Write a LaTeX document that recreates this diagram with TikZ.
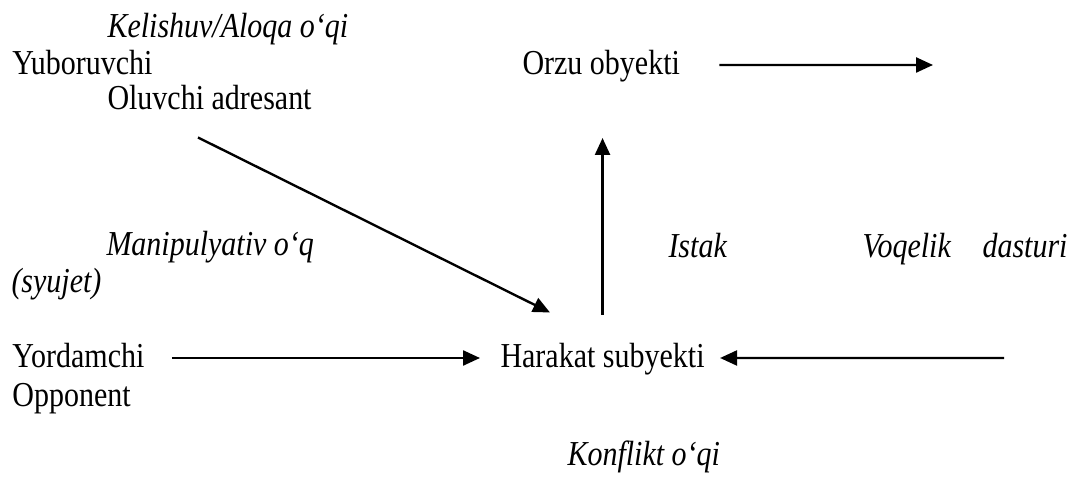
\documentclass[tikz,border=0pt]{standalone}
\usepackage{fontspec}
\setmainfont[FakeStretch=0.857]{Liberation Serif}
\usetikzlibrary{arrows.meta}
\begin{document}
\begin{tikzpicture}[x=0.4pt, y=-0.4pt,
    txt/.style={inner sep=0pt, anchor=base west, text height=8pt, text depth=0pt, font=\fontsize{14pt}{16pt}\selectfont},
    itxt/.style={txt, font=\fontsize{14pt}{16pt}\selectfont\itshape},
    arr/.style={line width=0.95pt, -{Triangle[length=6.8pt, width=6pt]}}]
    \useasboundingbox (0,0) rectangle (1072,484);
    \node (Kel) [itxt] at (107,38) {Kelishuv/Aloqa o‘qi};
    \node (Yub) [txt] at (12,75) {Yuboruvchi};
    \node (Oluv) [txt] at (107,110) {Oluvchi adresant};
    \node (Orzu) [txt] at (522,75) {Orzu obyekti};
    \node (Man) [itxt] at (106,256) {Manipulyativ o‘q};
    \node (Syu) [itxt] at (11,293) {(syujet)};
    \node (Ist) [itxt] at (668,258) {Istak};
    \node (Voq) [itxt] at (862,258) {\makebox[82pt][s]{Voqelik dasturi}};
    \node (Yord) [txt] at (12,368) {Yordamchi};
    \node (Opp) [txt] at (12,407) {Opponent};
    \node (Har) [txt] at (500,368) {Harakat subyekti};
    \node (Kon) [itxt] at (567,466) {Konflikt o‘qi};
    \coordinate (OrzuEnd) at (933,65);
    \coordinate (HarEnd) at (1004,358);
    \draw[arr] ([shift={(39,0)}]Orzu.east) to (OrzuEnd);
    \draw[arr] ([shift={(91,27)}]Oluv.south west) to ([shift={(50,-35)}]Har.north west);
    \draw[arr, shorten <=13pt, shorten >=25pt] (Har.north) to (Har.north |- Orzu.south);
    \draw[arr] ([shift={(27,0)}]Yord.east) to ([shift={(-20,0)}]Har.west);
    \draw[arr] (HarEnd) to ([shift={(15,0)}]Har.east);
\end{tikzpicture}
\end{document}
